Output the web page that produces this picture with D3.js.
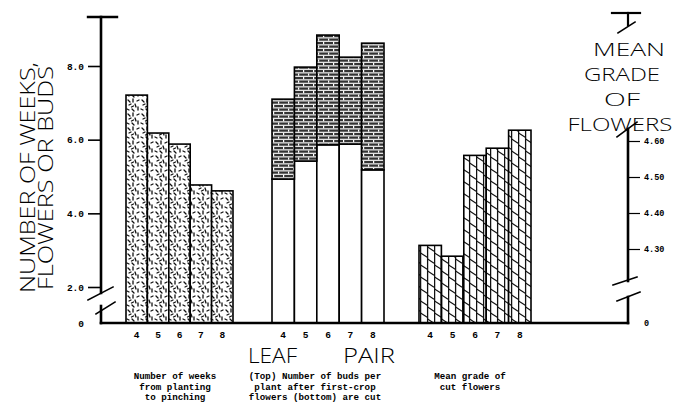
<!DOCTYPE html>
<html>
<head>
<meta charset="utf-8">
<script src="https://cdn.jsdelivr.net/npm/d3@7"></script>
<style>
  html, body { margin: 0; padding: 0; background: #fff; }
  svg { display: block; }
</style>
</head>
<body>
<script>
// ---------------- DATA ----------------
const leafPairs = ["4", "5", "6", "7", "8"];
const weeksToPinch = [7.21, 6.18, 5.88, 4.77, 4.61];      // stippled group
const flowersCut = [4.93, 5.42, 5.86, 5.88, 5.18];        // bottom (white) segment
const budsAfterCut = [2.17, 2.55, 2.98, 2.36, 3.44];      // top (brick) segment
const meanGrade = [4.31, 4.28, 4.56, 4.58, 4.63];         // right axis group
const leftTickValues = [0, 2, 4, 6, 8];
const rightTickValues = [0, 4.3, 4.4, 4.5, 4.6];
const leftTitle = ["NUMBER OF WEEKS,", "FLOWERS OR BUDS"];
const rightTitle = ["MEAN", "GRADE", "OF", "FLOWERS"];
const axisTitle = ["LEAF", "PAIR"];
const captions = [
  ["Number of weeks", "from planting", "to pinching"],
  ["(Top) Number of buds per", "plant after first-crop", "flowers (bottom) are cut"],
  ["Mean grade of", "cut flowers"]
];

// ---------------- LAYOUT ----------------
const W = 673, H = 402;
const svg = d3.select("body").append("svg").attr("width", W).attr("height", H);

const xL = 101, xR = 628, yBase = 323;
// broken (piecewise) scales
const yLeft = d3.scaleLinear().domain([0, 2, 8]).range([yBase, 287, 66]);
const yRight = d3.scaleLinear().domain([0, 4.2, 4.6]).range([yBase, 285, 141]);

const band1 = d3.scaleBand().domain(leafPairs).range([126, 233]).padding(0);
const band2 = d3.scaleBand().domain(leafPairs).range([272, 384]).padding(0);
const band3 = d3.scaleBand().domain(leafPairs).range([419, 531]).padding(0);

// ---------------- PATTERNS ----------------
const defs = svg.append("defs");
// stipple
const pS = defs.append("pattern").attr("id", "stip").attr("patternUnits", "userSpaceOnUse")
  .attr("width", 14).attr("height", 14);
pS.append("rect").attr("width", 14).attr("height", 14).attr("fill", "#fff");
const marks = [[2,2,4,4],[7,1,7,4],[11,3,13,2],[3,7,5,6],[9,6,10,9],[1,11,3,12],[6,11,8,13],[12,9,12,12],[5.5,9,7.5,8]];
marks.forEach(m => pS.append("line").attr("x1", m[0]).attr("y1", m[1]).attr("x2", m[2]).attr("y2", m[3])
  .attr("stroke", "#111").attr("stroke-width", 1.3).attr("stroke-linecap", "round"));
// brick (horizontal)
const pB = defs.append("pattern").attr("id", "brick").attr("patternUnits", "userSpaceOnUse")
  .attr("width", 10).attr("height", 7);
pB.append("rect").attr("width", 10).attr("height", 7).attr("fill", "#e4e4e4");
pB.append("rect").attr("x", 0).attr("y", 0).attr("width", 10).attr("height", 2.2).attr("fill", "#333");
pB.append("rect").attr("x", 0).attr("y", 3.5).attr("width", 10).attr("height", 2.2).attr("fill", "#333");
pB.append("rect").attr("x", 3).attr("y", 0).attr("width", 1.2).attr("height", 2.2).attr("fill", "#fff");
pB.append("rect").attr("x", 8).attr("y", 3.5).attr("width", 1.2).attr("height", 2.2).attr("fill", "#fff");
// vertical + diagonal
const pV = defs.append("pattern").attr("id", "vert").attr("patternUnits", "userSpaceOnUse")
  .attr("width", 14).attr("height", 12);
pV.append("rect").attr("width", 14).attr("height", 12).attr("fill", "#fff");
pV.append("line").attr("x1", 0.6).attr("y1", 0).attr("x2", 0.6).attr("y2", 12).attr("stroke", "#111").attr("stroke-width", 1.3);
pV.append("line").attr("x1", 7.6).attr("y1", 0).attr("x2", 7.6).attr("y2", 12).attr("stroke", "#111").attr("stroke-width", 1.3);
pV.append("line").attr("x1", 0.6).attr("y1", 1).attr("x2", 7.6).attr("y2", 5.5).attr("stroke", "#111").attr("stroke-width", 1.1);
pV.append("line").attr("x1", 7.6).attr("y1", 7).attr("x2", 14).attr("y2", 11.2).attr("stroke", "#111").attr("stroke-width", 1.1);

// ---------------- BARS ----------------
function drawBars(cls, band, y0s, y1s, scale, fill) {
  svg.append("g").selectAll("rect." + cls).data(leafPairs.map((k, i) => ({ k, v0: y0s[i], v1: y1s[i] })))
    .join("rect").attr("class", cls)
    .attr("x", d => band(d.k)).attr("width", band.bandwidth())
    .attr("y", d => scale(d.v1)).attr("height", d => scale(d.v0) - scale(d.v1))
    .attr("fill", fill).attr("stroke", "#000").attr("stroke-width", 1.6);
}
drawBars("g1", band1, leafPairs.map(() => 0), weeksToPinch, yLeft, "url(#stip)");
drawBars("g2b", band2, leafPairs.map(() => 0), flowersCut, yLeft, "#fff");
drawBars("g2t", band2, flowersCut, flowersCut.map((f, i) => f + budsAfterCut[i]), yLeft, "url(#brick)");
drawBars("g3", band3, meanGrade.map(() => 0), meanGrade, yRight, "url(#vert)");

// ---------------- AXES ----------------
const tickFont = "'Liberation Mono', 'DejaVu Sans Mono', monospace";
const axL = svg.append("g").attr("transform", `translate(${xL},0)`)
  .call(d3.axisLeft(yLeft).tickValues(leftTickValues).tickSize(13).tickPadding(4)
    .tickFormat(d => d === 0 ? "0" : d3.format(".1f")(d)));
axL.select(".domain").remove();
axL.selectAll(".tick line").attr("stroke", "#000").attr("stroke-width", 1.6)
  .filter(d => d === 0).remove();
axL.selectAll(".tick text").attr("font-family", tickFont).attr("font-weight", "bold")
  .attr("font-size", 9.5).attr("fill", "#000");

const axR = svg.append("g").attr("transform", `translate(${xR},0)`)
  .call(d3.axisRight(yRight).tickValues(rightTickValues).tickSize(12).tickPadding(4)
    .tickFormat(d => d === 0 ? "0" : d3.format(".2f")(d)));
axR.select(".domain").remove();
axR.selectAll(".tick line").attr("stroke", "#000").attr("stroke-width", 1.2)
  .filter(d => d === 0).remove();
axR.selectAll(".tick text").attr("font-family", tickFont).attr("font-weight", "bold")
  .attr("font-size", 8.5).attr("fill", "#000");

// axis lines with breaks
const ax = svg.append("g").attr("stroke", "#000").attr("fill", "none").attr("stroke-linecap", "square");
const seg = (x1, y1, x2, y2, w) => ax.append("line").attr("x1", x1).attr("y1", y1).attr("x2", x2).attr("y2", y2).attr("stroke-width", w);
// left axis
seg(88, 17, 117, 17, 2.4);
seg(xL, 17, xL, 293, 2.6);
seg(88, 300, 113, 287, 1.6);
seg(96, 314, 115, 302, 1.6);
seg(xL, 306, xL, yBase, 2.6);
// baseline
seg(xL, yBase, xR, yBase, 2.6);
// right axis
seg(612, 13, 640, 13, 2.2);
seg(xR, 13, xR, 25, 2.2);
seg(618, 33, 635, 22, 1.6);
seg(617, 137, 637, 122, 1.6);
seg(xR, 129, xR, 281, 2.6);
seg(613, 285, 637, 277, 1.6);
seg(617, 301, 640, 292, 1.6);
seg(xR, 297, xR, yBase, 2.6);

// x tick labels
[band1, band2, band3].forEach(b => {
  svg.append("g").selectAll("text").data(leafPairs).join("text")
    .attr("x", d => b(d) + b.bandwidth() / 2).attr("y", 338)
    .attr("text-anchor", "middle").attr("font-family", tickFont).attr("font-weight", "bold")
    .attr("font-size", 9.5).text(d => d);
});

// ---------------- TITLES ----------------
const letterFont = "'Open Sans', 'Liberation Sans', sans-serif";
const lt = [{ x: 35, y0: 62, y1: 293 }, { x: 53, y0: 66, y1: 290 }];
leftTitle.forEach((t, i) => {
  const L = lt[i];
  svg.append("text").attr("transform", `translate(${L.x},${L.y1}) rotate(-90)`)
    .attr("x", 0).attr("y", 0).attr("font-family", letterFont).attr("font-weight", 300).attr("font-size", 20)
    .attr("textLength", L.y1 - L.y0).attr("lengthAdjust", "spacingAndGlyphs").text(t);
});
const rt = [{ cx: 629, y: 56, w: 72 }, { cx: 622, y: 81, w: 76 }, { cx: 622, y: 106, w: 36 }, { cx: 620, y: 131, w: 105 }];
rightTitle.forEach((t, i) => {
  const R = rt[i];
  svg.append("text").attr("x", R.cx - R.w / 2).attr("y", R.y)
    .attr("font-family", letterFont).attr("font-weight", 300).attr("font-size", 18)
    .attr("textLength", R.w).attr("lengthAdjust", "spacingAndGlyphs").text(t);
});
// LEAF PAIR
const at = [{ x: 248, w: 49 }, { x: 343, w: 52 }];
axisTitle.forEach((t, i) => {
  svg.append("text").attr("x", at[i].x).attr("y", 363).attr("font-family", letterFont)
    .attr("font-weight", 300).attr("font-size", 20.5)
    .attr("textLength", at[i].w).attr("lengthAdjust", "spacingAndGlyphs").text(t);
});

// captions
const capX = [175, 315, 470];
captions.forEach((lines, gi) => {
  lines.forEach((ln, li) => {
    svg.append("text").attr("x", capX[gi]).attr("y", 379 + li * 10.5)
      .attr("text-anchor", "middle").attr("font-family", tickFont).attr("font-weight", "bold")
      .attr("font-size", 9.2).text(ln);
  });
});
</script>
</body>
</html>
